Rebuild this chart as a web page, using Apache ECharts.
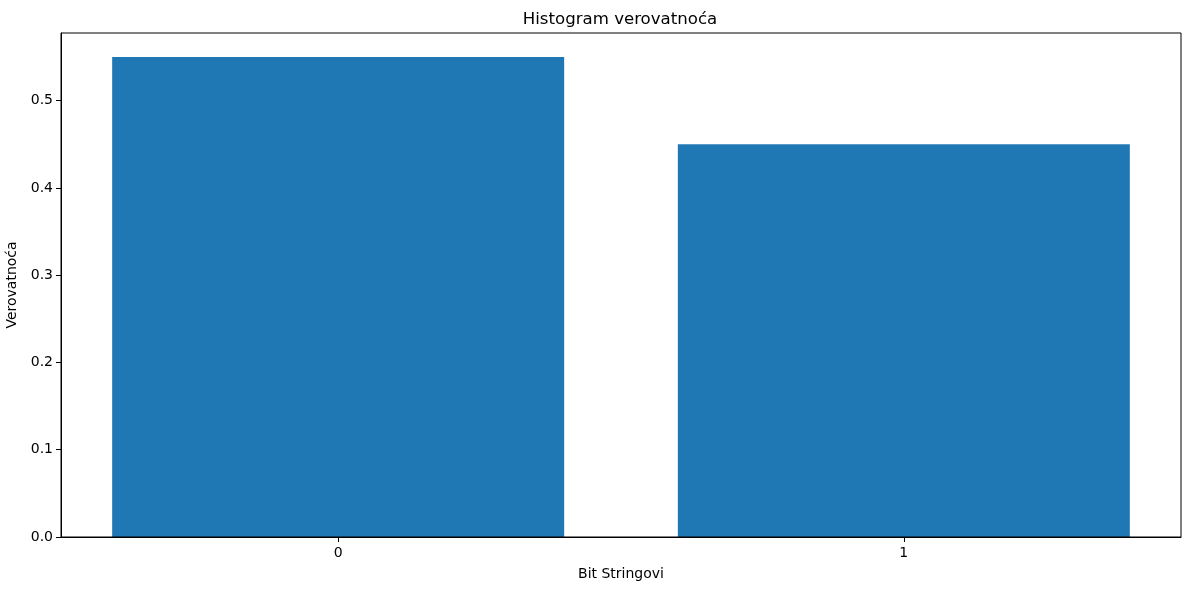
<!DOCTYPE html>
<html>
<head>
<meta charset="utf-8">
<script src="https://cdn.jsdelivr.net/npm/echarts@6/dist/echarts.min.js"></script>
<style>
  html, body { margin: 0; padding: 0; background: #fff; }
  #main { width: 1189px; height: 590px; }
</style>
</head>
<body>
<div id="main"></div>
<script>
// data
var categories = ['0', '1'];
var probabilities = [0.55, 0.45];
var yTicks = [0, 0.1, 0.2, 0.3, 0.4, 0.5];

var chart = echarts.init(document.getElementById('main'));

var barData = categories.map(function (c, i) {
    return [i, probabilities[i]];
});

var font = 'DejaVu Sans';

chart.setOption({
    animation: false,
    title: {
        text: 'Histogram verovatnoća',
        left: 615,
        textAlign: 'center',
        top: 6,
        textStyle: { fontFamily: font, fontSize: 16.6, fontWeight: 'normal', color: '#000' }
    },
    grid: { left: 61, right: 8, top: 33, bottom: 53, containLabel: false, outerBoundsMode: 'none' },
    xAxis: {
        type: 'value',
        min: -0.49,
        max: 1.49,
        name: 'Bit Stringovi',
        nameLocation: 'middle',
        nameGap: 30,
        nameTextStyle: { fontFamily: font, fontSize: 14, color: '#000' },
        axisLine: { show: true, onZero: false, lineStyle: { color: '#000', width: 1 } },
        axisTick: { show: true, length: 5, lineStyle: { color: '#000' }, customValues: [0, 1] },
        axisLabel: {
            fontFamily: font, fontSize: 14, color: '#000', margin: 9,
            customValues: [0, 1],
            formatter: function (v) { return categories[Math.round(v)]; }
        },
        splitLine: { show: false }
    },
    yAxis: {
        type: 'value',
        min: 0,
        max: 0.5775,
        name: 'Verovatnoća',
        nameLocation: 'middle',
        nameGap: 33,
        nameTextStyle: { fontFamily: font, fontSize: 14, color: '#000' },
        axisLine: { show: true, onZero: false, lineStyle: { color: '#000', width: 1 } },
        axisTick: { show: true, length: 5, lineStyle: { color: '#000' }, customValues: yTicks },
        axisLabel: {
            fontFamily: font, fontSize: 14, color: '#000', margin: 8,
            customValues: yTicks,
            formatter: function (v) { return v.toFixed(1); }
        },
        splitLine: { show: false }
    },
    series: [{
        type: 'bar',
        data: barData,
        barWidth: 452,
        itemStyle: { color: '#1f77b4' },
        silent: true
    }],
    graphic: [{
        type: 'rect',
        shape: { x: 61, y: 33, width: 1120, height: 504 },
        style: { fill: 'none', stroke: '#000', lineWidth: 1 },
        silent: true,
        z: 10
    }]
});
</script>
</body>
</html>
